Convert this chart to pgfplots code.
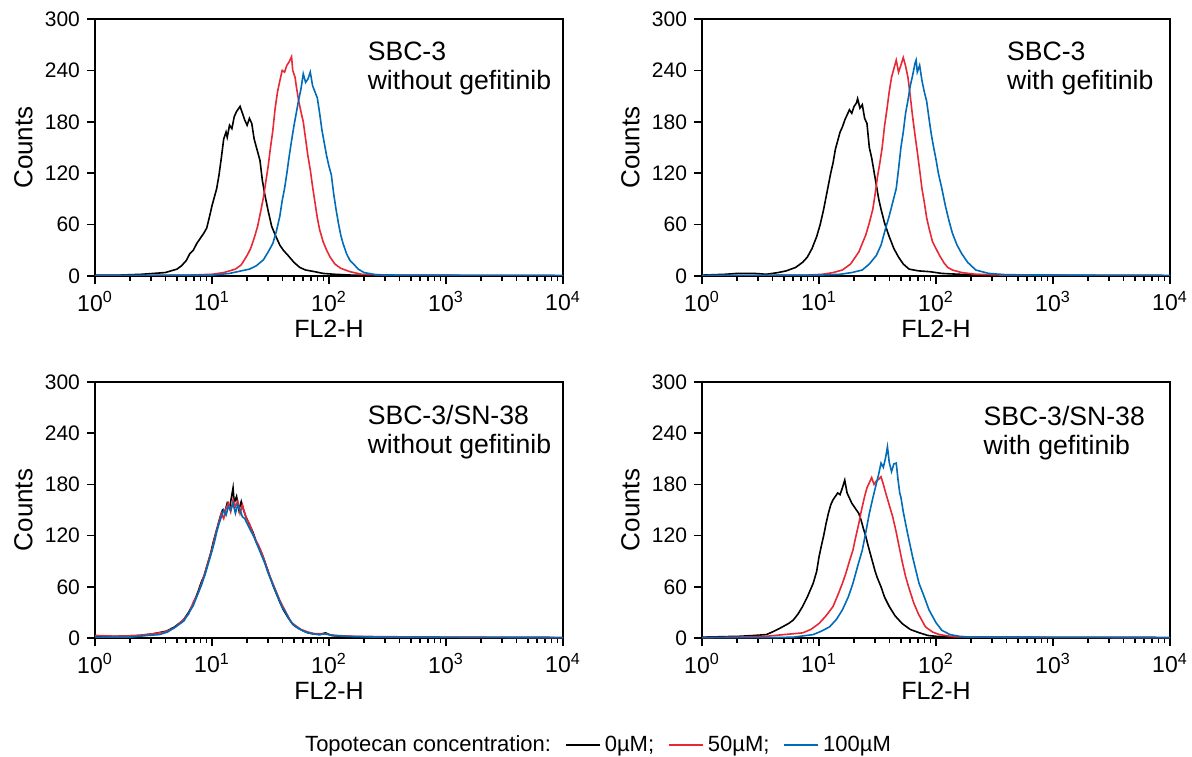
\documentclass[border=0pt]{standalone}
\usepackage{fontspec}
\setmainfont{Liberation Sans}
\usepackage{pgfplots}
\pgfplotsset{compat=1.18}
\definecolor{fcred}{RGB}{232,40,52}
\definecolor{fcblue}{RGB}{0,108,185}

\tikzset{note/.style={anchor=north west,align=left,inner sep=0pt,
    font=\fontsize{13.3}{14.3}\selectfont}}

\pgfplotsset{fcaxis/.style={
  scale only axis,width=234pt,
  xmin=0,xmax=4,ymin=0,ymax=300,
  axis line style={line width=1pt},
  xtick={0,1,2,3,4},
  xticklabels={10\textsuperscript{0},10\textsuperscript{1},10\textsuperscript{2},10\textsuperscript{3},10\textsuperscript{4}},
  minor xtick={0.30103,0.47712,0.60206,0.69897,0.77815,0.84510,0.90309,0.95424,
    1.30103,1.47712,1.60206,1.69897,1.77815,1.84510,1.90309,1.95424,
    2.30103,2.47712,2.60206,2.69897,2.77815,2.84510,2.90309,2.95424,
    3.30103,3.47712,3.60206,3.69897,3.77815,3.84510,3.90309,3.95424},
  ytick={0,60,120,180,240,300},
  tick align=outside,xtick pos=bottom,ytick pos=left,
  major tick length=4pt,minor tick length=2.5pt,
  tick style={line width=0.8pt,black},
  /pgf/number format/assume math mode=true,
  yticklabel style={font=\fontsize{10.5}{12}\selectfont},
  xticklabel style={font=\fontsize{11.5}{13}\selectfont},
  xlabel style={font=\fontsize{12.5}{14}\selectfont},
  ylabel style={font=\fontsize{13}{14}\selectfont,
    at={(axis description cs:-0.1325,0.5)},anchor=south,inner sep=0pt},
  xlabel={FL2-H},ylabel={Counts},
  every axis plot/.append style={line width=0.8pt,sharp plot,mark=none},
}}

\begin{document}
\begin{tikzpicture}
\useasboundingbox (0,0) rectangle (596pt,378pt);

% top left
\begin{axis}[fcaxis,height=128.5pt,at={(47.5pt,240pt)},anchor=south west,
  xlabel style={at={(axis description cs:0.5,-0.171)},anchor=north,inner sep=0pt}]
\addplot[black] coordinates {(0,1) (0.2,1) (0.4,2) (0.5,3) (0.6,4) (0.65,6) (0.7,8) (0.74,12) (0.78,18) (0.81,26) (0.84,30) (0.87,38) (0.9,44) (0.93,50) (0.955,56) (0.98,70) (1.0,82) (1.02,92) (1.04,102) (1.06,118) (1.08,138) (1.1,160) (1.12,168) (1.13,162) (1.15,176) (1.17,172) (1.19,186) (1.21,192) (1.24,198) (1.26,190) (1.28,182) (1.3,176) (1.32,184) (1.34,178) (1.36,160) (1.38,150) (1.41,135) (1.43,112) (1.45,96) (1.48,76) (1.51,58) (1.54,48) (1.58,36) (1.61,30) (1.65,24) (1.7,16) (1.75,10) (1.8,7) (1.88,5) (1.95,3) (2.05,2) (2.2,1) (2.5,0.5) (4,0.5)};
\addplot[fcred] coordinates {(0,0.5) (0.8,1) (1.0,2) (1.1,4) (1.2,8) (1.25,13) (1.3,24) (1.33,32) (1.36,44) (1.39,58) (1.42,78) (1.44,92) (1.46,110) (1.48,128) (1.5,150) (1.52,170) (1.54,196) (1.56,215) (1.58,228) (1.6,240) (1.62,238) (1.64,246) (1.66,250) (1.68,256) (1.69,240) (1.71,232) (1.72,222) (1.74,205) (1.76,192) (1.78,180) (1.8,160) (1.82,140) (1.84,124) (1.86,104) (1.88,86) (1.9,68) (1.92,54) (1.95,40) (1.98,30) (2.01,22) (2.05,14) (2.1,9) (2.18,5) (2.28,2) (2.5,1) (4,0.5)};
\addplot[fcblue] coordinates {(0,0.5) (1.0,1) (1.15,3) (1.25,6) (1.32,8) (1.38,12) (1.44,19) (1.48,28) (1.52,38) (1.55,52) (1.58,70) (1.6,88) (1.62,102) (1.64,120) (1.66,140) (1.68,158) (1.7,175) (1.72,190) (1.74,205) (1.76,218) (1.78,236) (1.8,226) (1.82,230) (1.84,238) (1.86,222) (1.88,215) (1.9,208) (1.92,190) (1.94,170) (1.96,155) (1.98,140) (2.0,128) (2.02,118) (2.04,96) (2.06,78) (2.08,62) (2.1,48) (2.12,38) (2.15,26) (2.18,18) (2.21,14) (2.25,8) (2.3,4) (2.4,1.5) (2.6,1) (4,0.5)};
\node[note] at (rel axis cs:0.582,0.912) {SBC-3\\without gefitinib};
\end{axis}

% top right
\begin{axis}[fcaxis,height=128.5pt,at={(351pt,240pt)},anchor=south west,
  xlabel style={at={(axis description cs:0.5,-0.171)},anchor=north,inner sep=0pt}]
\addplot[black] coordinates {(0,1) (0.2,2) (0.3,3) (0.45,3) (0.55,2) (0.65,4) (0.72,6) (0.8,10) (0.86,16) (0.9,22) (0.94,32) (0.98,46) (1.01,60) (1.04,78) (1.06,92) (1.08,106) (1.1,120) (1.12,132) (1.14,148) (1.16,158) (1.18,168) (1.2,174) (1.22,182) (1.24,188) (1.26,194) (1.28,190) (1.3,198) (1.32,202) (1.33,207) (1.35,196) (1.37,200) (1.39,184) (1.41,178) (1.43,150) (1.45,138) (1.47,122) (1.49,106) (1.51,90) (1.53,78) (1.56,62) (1.6,46) (1.64,32) (1.68,22) (1.72,14) (1.77,8) (1.85,6) (1.95,5) (2.05,3) (2.2,2) (2.5,1) (4,0.5)};
\addplot[fcred] coordinates {(0,0.5) (0.9,1) (1.03,2) (1.12,4) (1.2,7) (1.27,14) (1.31,22) (1.34,28) (1.37,38) (1.4,48) (1.43,62) (1.46,78) (1.48,96) (1.5,116) (1.52,132) (1.54,150) (1.56,175) (1.58,194) (1.6,215) (1.62,232) (1.64,242) (1.66,252) (1.68,238) (1.7,246) (1.72,255) (1.74,245) (1.76,232) (1.78,210) (1.8,186) (1.82,165) (1.84,145) (1.86,124) (1.88,102) (1.9,86) (1.92,68) (1.94,56) (1.97,40) (2.0,32) (2.03,24) (2.07,15) (2.1,10) (2.14,7) (2.22,4) (2.34,2) (2.6,1) (4,0.5)};
\addplot[fcblue] coordinates {(0,0.5) (1.0,1) (1.18,2) (1.28,4) (1.37,7) (1.43,14) (1.49,24) (1.53,36) (1.57,56) (1.6,70) (1.63,86) (1.66,102) (1.68,125) (1.7,150) (1.72,168) (1.74,190) (1.76,205) (1.78,222) (1.8,234) (1.82,248) (1.83,252) (1.84,238) (1.86,246) (1.88,228) (1.9,215) (1.92,204) (1.94,184) (1.96,165) (1.98,150) (2.0,136) (2.02,120) (2.05,102) (2.08,82) (2.11,65) (2.14,50) (2.18,36) (2.22,26) (2.27,16) (2.34,7) (2.45,3) (2.6,1.5) (3,1) (4,0.5)};
\node[note] at (rel axis cs:0.651,0.912) {SBC-3\\with gefitinib};
\end{axis}

% bottom left
\begin{axis}[fcaxis,height=128pt,at={(47.5pt,59pt)},anchor=south west,
  xlabel style={at={(axis description cs:0.5,-0.172)},anchor=north,inner sep=0pt},
  legend columns=4,
  legend style={at={(1.075,-0.418)},anchor=center,draw=none,fill=none,
    font=\fontsize{11}{13}\selectfont,
    /tikz/every even column/.append style={column sep=5pt}},
  legend entries={Topotecan concentration:,0µM;,50µM;,100µM}]
\addlegendimage{empty legend}
\addplot[black] coordinates {(0,2) (0.2,2) (0.38,3) (0.5,5) (0.61,8) (0.68,13) (0.755,21) (0.8,30) (0.84,40) (0.88,54) (0.91,66) (0.93,72) (0.96,86) (0.99,100) (1.01,112) (1.03,122) (1.05,132) (1.07,142) (1.09,150) (1.11,148) (1.13,158) (1.15,152) (1.17,168) (1.18,176) (1.19,158) (1.21,166) (1.23,150) (1.25,160) (1.27,150) (1.29,142) (1.31,136) (1.33,130) (1.35,124) (1.38,112) (1.41,104) (1.44,94) (1.47,82) (1.5,70) (1.52,62) (1.55,52) (1.58,42) (1.61,33) (1.65,24) (1.69,16) (1.72,13) (1.77,9) (1.82,6) (1.86,5) (1.92,4) (1.97,6) (2.02,3) (2.1,2) (2.4,1) (4,0.5)};
\addplot[fcred] coordinates {(0,3) (0.2,2) (0.38,3) (0.5,5) (0.6,7) (0.68,12) (0.76,22) (0.8,28) (0.84,42) (0.88,52) (0.91,64) (0.94,76) (0.97,90) (1.0,104) (1.02,116) (1.04,126) (1.06,136) (1.08,146) (1.1,140) (1.12,152) (1.14,158) (1.16,148) (1.18,162) (1.2,154) (1.22,160) (1.24,146) (1.26,156) (1.28,146) (1.3,138) (1.32,134) (1.34,126) (1.37,116) (1.4,108) (1.43,98) (1.46,86) (1.49,74) (1.52,64) (1.55,54) (1.58,44) (1.61,36) (1.64,28) (1.68,18) (1.72,14) (1.76,10) (1.82,7) (1.88,5) (1.95,5) (2.05,3) (2.2,2) (2.5,1.5) (3,1) (4,0.5)};
\addplot[fcblue] coordinates {(0,1) (0.3,1) (0.45,3) (0.55,4) (0.62,7) (0.7,14) (0.76,20) (0.8,29) (0.84,38) (0.88,52) (0.91,62) (0.94,74) (0.97,88) (1.0,102) (1.02,112) (1.04,124) (1.06,134) (1.08,142) (1.1,150) (1.12,144) (1.14,154) (1.16,150) (1.18,158) (1.2,146) (1.22,156) (1.24,150) (1.26,142) (1.28,140) (1.3,134) (1.33,126) (1.36,118) (1.39,108) (1.42,98) (1.45,88) (1.48,76) (1.51,66) (1.54,56) (1.57,46) (1.6,36) (1.63,30) (1.66,22) (1.7,15) (1.74,11) (1.8,7) (1.86,5) (1.92,4) (1.97,5) (2.03,3) (2.15,2) (2.4,1) (4,0.5)};
\node[note] at (rel axis cs:0.582,0.91) {SBC-3/SN-38\\without gefitinib};
\end{axis}

% bottom right
\begin{axis}[fcaxis,height=128pt,at={(351pt,59pt)},anchor=south west,
  xlabel style={at={(axis description cs:0.5,-0.172)},anchor=north,inner sep=0pt}]
\addplot[black] coordinates {(0,1) (0.32,2) (0.45,3) (0.55,4) (0.6,7) (0.66,11) (0.7,14) (0.74,17) (0.78,21) (0.82,28) (0.86,37) (0.9,48) (0.95,64) (0.98,78) (1.0,95) (1.02,108) (1.04,120) (1.06,134) (1.08,146) (1.1,156) (1.12,162) (1.14,166) (1.16,170) (1.18,168) (1.2,176) (1.22,185) (1.24,170) (1.26,164) (1.28,158) (1.3,154) (1.32,150) (1.34,146) (1.36,138) (1.38,128) (1.4,119) (1.42,108) (1.44,98) (1.46,88) (1.48,78) (1.5,70) (1.53,60) (1.56,48) (1.6,37) (1.65,26) (1.71,17) (1.78,10) (1.86,6) (1.93,3) (2.0,2) (2.2,1) (4,0.5)};
\addplot[fcred] coordinates {(0,0.5) (0.3,1) (0.55,2) (0.7,4) (0.86,6) (0.93,10) (1.0,17) (1.06,26) (1.12,37) (1.16,50) (1.2,64) (1.23,76) (1.26,90) (1.29,103) (1.31,116) (1.34,134) (1.36,148) (1.39,166) (1.41,176) (1.43,182) (1.45,188) (1.47,180) (1.49,184) (1.51,186) (1.53,189) (1.55,180) (1.57,170) (1.6,156) (1.63,142) (1.66,124) (1.685,107) (1.71,90) (1.74,72) (1.77,58) (1.81,41) (1.85,28) (1.91,13) (1.97,7) (2.03,4) (2.15,1.5) (2.4,1) (4,0.5)};
\addplot[fcblue] coordinates {(0,0.5) (0.6,0.5) (0.78,1) (0.95,4) (1.02,8) (1.09,13) (1.15,22) (1.2,33) (1.25,48) (1.29,64) (1.33,84) (1.37,103) (1.4,124) (1.43,146) (1.46,164) (1.49,181) (1.51,192) (1.53,205) (1.55,200) (1.57,212) (1.585,224) (1.6,206) (1.62,195) (1.64,204) (1.66,205) (1.675,186) (1.69,170) (1.7,165) (1.72,148) (1.74,134) (1.77,114) (1.8,95) (1.83,78) (1.855,64) (1.9,48) (1.94,33) (2.0,18) (2.05,9) (2.12,4) (2.2,2) (2.3,1) (4,0.5)};
\node[note] at (rel axis cs:0.601,0.905) {SBC-3/SN-38\\with gefitinib};
\end{axis}
\end{tikzpicture}
\end{document}
